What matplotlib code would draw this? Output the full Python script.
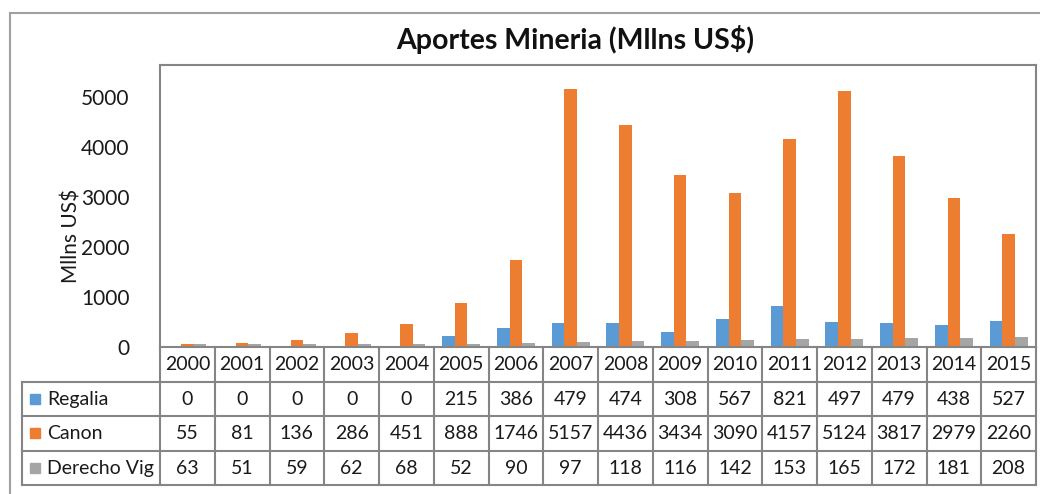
import matplotlib

matplotlib.use("Agg")

import matplotlib.pyplot as plt
import numpy as np
from matplotlib.lines import Line2D

years = ["2000", "2001", "2002", "2003", "2004", "2005", "2006", "2007",
         "2008", "2009", "2010", "2011", "2012", "2013", "2014", "2015"]
regalia = [0, 0, 0, 0, 0, 215, 386, 479, 474, 308, 567, 821, 497, 479, 438, 527]
canon = [55, 81, 136, 286, 451, 888, 1746, 5157, 4436, 3434, 3090, 4157, 5124, 3817, 2979, 2260]
derecho = [63, 51, 59, 62, 68, 52, 90, 97, 118, 116, 142, 153, 165, 172, 181, 208]
series_names = ["Regalia", "Canon", "Derecho Vig"]
colors = ["#5B9BD5", "#ED7D31", "#A5A5A5"]

plt.rcParams["font.family"] = ["Lato", "DejaVu Sans"]

W, H = 1040, 494
fig = plt.figure(figsize=(W / 100, H / 100), dpi=100)
line_col = "#858585"


def px_box(left, top, right, bottom):
    return [left / W, 1 - bottom / H, (right - left) / W, (bottom - top) / H]


# outer chart frame
fig.add_artist(Line2D([10 / W, 1.0], [1 - 13 / H, 1 - 13 / H], color="#a0a0a0", lw=1.5))
fig.add_artist(Line2D([10 / W, 10 / W], [0, 1 - 13 / H], color="#a0a0a0", lw=1.5))

# bar area
ax = fig.add_axes(px_box(160, 65, 1036, 347))
x = np.arange(len(years))
bw = 0.23
for k, vals in enumerate([regalia, canon, derecho]):
    ax.bar(x + (k - 1) * bw, vals, bw, color=colors[k])
ax.set_xlim(-0.5, len(years) - 0.5)
ax.set_ylim(0, 5640)
ax.set_yticks([0, 1000, 2000, 3000, 4000, 5000])
ax.set_xticks([])
ax.tick_params(axis="y", length=0, pad=22, labelsize=15, labelcolor="#1a1a1a")
for s in ax.spines.values():
    s.set_color(line_col)
    s.set_linewidth(1.5)

fig.text(575 / W, 1 - 40 / H, "Aportes Mineria (Mllns US$)", ha="center", va="center",
         fontsize=20.5, fontweight="bold", color="#111111")
fig.text(72 / W, 1 - 236 / H, "Mllns US$", rotation=90, ha="center", va="center",
         fontsize=15, color="#1a1a1a")

# data table
label_w = (160 - 22) / ((1036 - 160) / len(years))
left = -0.5 - label_w
right = len(years) - 0.5
tax = fig.add_axes(px_box(22, 347, 1036, 485))
tax.set_xlim(left, right)
tax.set_ylim(4, 0)
tax.axis("off")

for k in range(len(years) + 1):
    tax.plot([k - 0.5, k - 0.5], [0, 4], color=line_col, lw=1.5, clip_on=False)
tax.plot([left, left], [1, 4], color=line_col, lw=1.5, clip_on=False)
for r in range(1, 5):
    tax.plot([left, right], [r, r], color=line_col, lw=1.5, clip_on=False)

for i, yr in enumerate(years):
    tax.text(i, 0.52, yr, ha="center", va="center", fontsize=14, color="#1a1a1a")
for r, vals in enumerate([regalia, canon, derecho]):
    for i, v in enumerate(vals):
        tax.text(i, r + 1.52, str(v), ha="center", va="center", fontsize=14, color="#1a1a1a")
    tax.plot(left + 0.24, r + 1.5, marker="s", markersize=7.5, color=colors[r], clip_on=False)
    tax.text(left + 0.46, r + 1.52, series_names[r], ha="left", va="center",
             fontsize=14, color="#1a1a1a")

fig.savefig("out.png", dpi=100)
